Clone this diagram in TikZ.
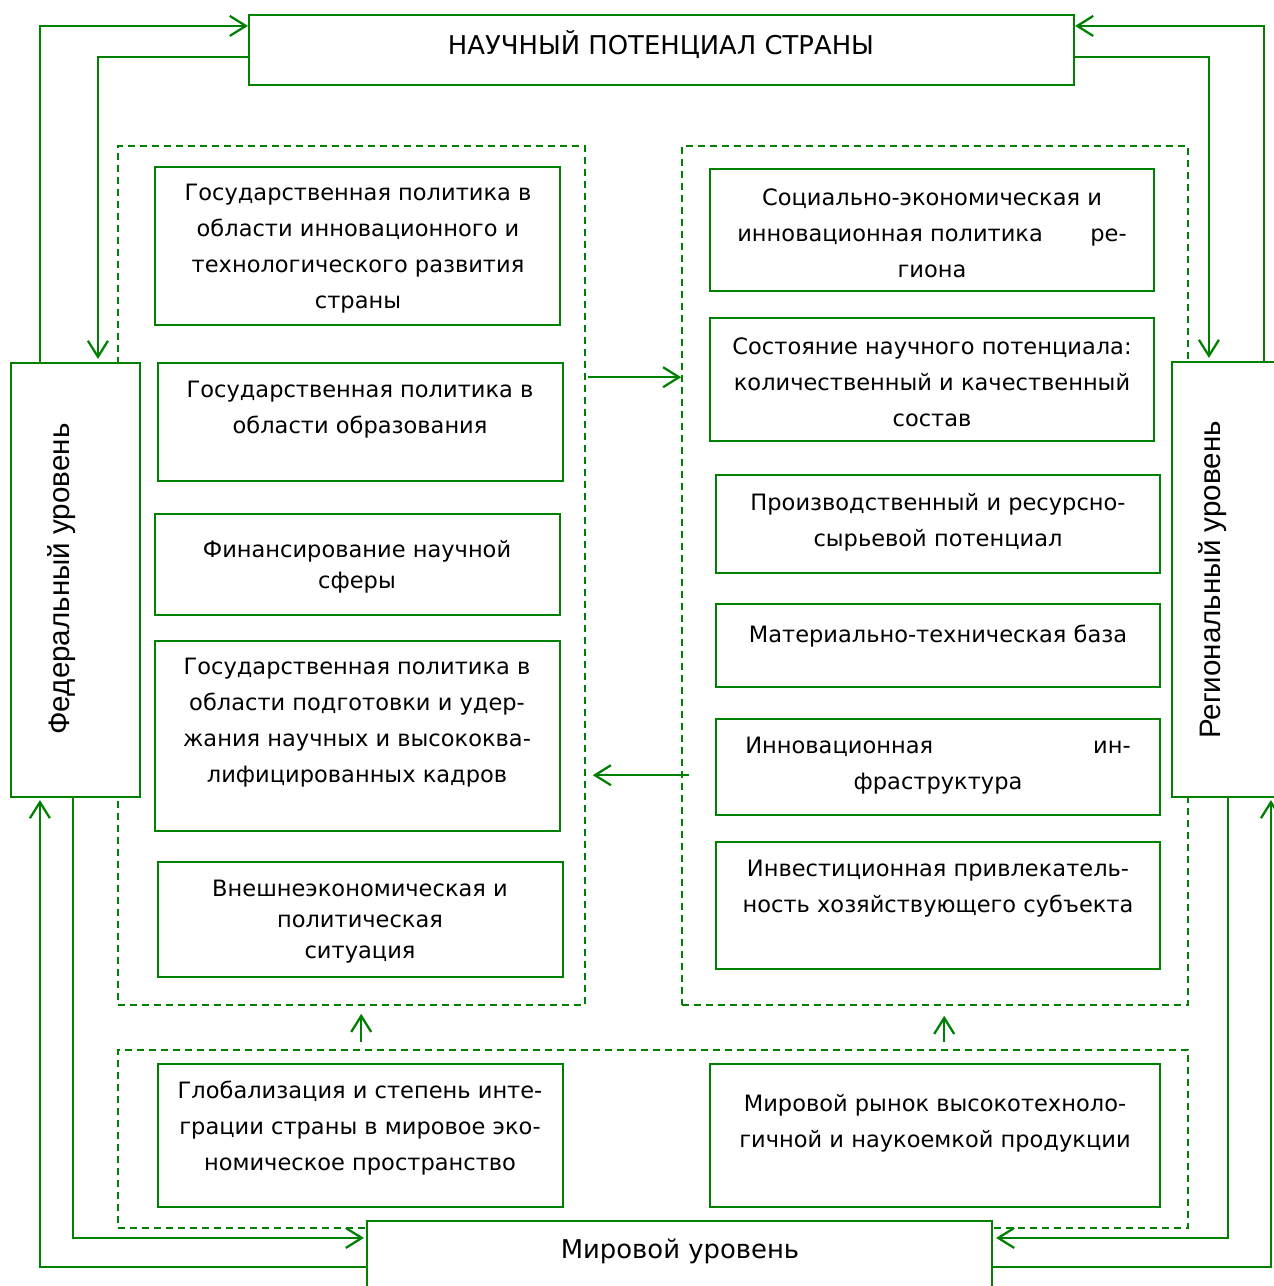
\documentclass[tikz,border=0pt]{standalone}
\usepackage{fontspec}
\setmainfont{DejaVu Sans}
\newfontfamily\lib{Liberation Sans}
\usetikzlibrary{arrows.meta,fit,calc}
\definecolor{gr}{RGB}{0,128,0}
\begin{document}
\begin{tikzpicture}[x=0.75pt,y=-0.75pt,
  box/.style={draw=gr,line width=1.6pt,inner sep=0pt,fill=none},
  grp/.style={draw=gr,line width=1.2pt,dash pattern=on 5.5pt off 3.5pt,inner sep=0pt},
  arr/.style={draw=gr,line width=1.8pt,-{Straight Barb[length=12pt,width=15pt,line width=1.7pt]}},
  txt/.style={align=center,inner sep=0pt,font=\fontsize{16.9}{27}\selectfont},
  txs/.style={align=center,inner sep=0pt,font=\fontsize{16.9}{23.3}\selectfont},
  big/.style={inner sep=0pt,font=\fontsize{19.4}{22}\selectfont},
  rot/.style={inner sep=0pt,rotate=90,font=\lib\fontsize{22.2}{24}\selectfont}]
\useasboundingbox (0,0) rectangle (1274,1286);
\begin{scope}
\clip (0,0) rectangle (1274,1286);
% groups
\node[grp,fit={(118,146)(585,1005)}] (gL) {};
\node[grp,fit={(682,146)(1188,1005)}] (gR) {};
\node[grp,fit={(118,1050)(1188,1228)}] (gB) {};
% level boxes
\node[box,fit={(249,15)(1074,85)},fill=white] (top) {};
\node[box,fit={(11,363)(140,797)},fill=white] (fed) {};
\node[box,fit={(1172,362)(1300,797)},fill=white] (reg) {};
\node[box,fit={(367,1221)(992,1300)},fill=white] (wor) {};
\node[big] (ttop) at (661,45) {НАУЧНЫЙ ПОТЕНЦИАЛ СТРАНЫ};
\node[big] (twor) at (680,1251) {Мировой уровень};
\node[rot] (tfed) at (62,579) {Федеральный уровень};
\node[rot] (treg) at (1213,580) {Региональный уровень};
% left boxes
\node[box,fit={(155,167)(560,325)}] (l1) {};
\node[box,fit={(158,363)(563,481)}] (l2) {};
\node[box,fit={(155,514)(560,615)}] (l3) {};
\node[box,fit={(155,641)(560,831)}] (l4) {};
\node[box,fit={(158,862)(563,977)}] (l5) {};
\node[txt] (tl1) at (358,249) {Государственная политика в\\области инновационного и\\технологического развития\\страны};
\node[txt] (tl2) at (360,410) {Государственная политика в\\области образования};
\node[txs] (tl3) at (357,567) {Финансирование научной\\сферы};
\node[txt] (tl4) at (357,723) {Государственная политика в\\области подготовки и удер-\\жания научных и высококва-\\лифицированных кадров};
\node[txs] (tl5) at (360,922) {Внешнеэкономическая и\\политическая\\ситуация};
% right boxes
\node[box,fit={(710,169)(1154,291)}] (r1) {};
\node[box,fit={(710,318)(1154,441)}] (r2) {};
\node[box,fit={(716,475)(1160,573)}] (r3) {};
\node[box,fit={(716,604)(1160,687)}] (r4) {};
\node[box,fit={(716,719)(1160,815)}] (r5) {};
\node[box,fit={(716,842)(1160,969)}] (r6) {};
\node[txt] (tr1) at (932,233) {Социально-экономическая и\\\makebox[292pt][s]{инновационная политика\hfill ре-}\\гиона};
\node[txt] (tr2) at (932,382) {Состояние научного потенциала:\\количественный и качественный\\состав};
\node[txt] (tr3) at (938,522) {Производственный и ресурсно-\\сырьевой потенциал};
\node[txt] (tr4) at (938,636) {Материально-техническая база};
\node[txt] (tr5) at (938,766) {\makebox[289pt][s]{Инновационная\hfill ин-}\\фраструктура};
\node[txt] (tr6) at (938,889) {Инвестиционная привлекатель-\\ность хозяйствующего субъекта};
% bottom boxes
\node[box,fit={(158,1064)(563,1207)}] (b1) {};
\node[box,fit={(710,1064)(1160,1207)}] (b2) {};
\node[txt] (tb1) at (360,1128) {Глобализация и степень инте-\\грации страны в мировое эко-\\номическое пространство};
\node[txt] (tb2) at (935,1123) {Мировой рынок высокотехноло-\\гичной и наукоемкой продукции};
% connectors
\draw[arr] ($(fed.north west)+(30,0)$) |- ($(top.north west)+(0,12)$);
\draw[arr] ($(top.north west)+(0,43)$) -| ($(fed.north west)+(88,-3)$);
\draw[arr] ($(reg.north west)+(93,0)$) |- ($(top.north east)+(0,12)$);
\draw[arr] ($(top.north east)+(0,43)$) -| ($(reg.north west)+(38,-3)$);
\draw[arr] ($(fed.south west)+(63,0)$) |- ($(wor.north west)+(-2,18)$);
\draw[arr] ($(wor.north west)+(0,47)$) -| ($(fed.south west)+(30,2)$);
\draw[arr] ($(reg.south west)+(57,0)$) |- ($(wor.north east)+(3,18)$);
\draw[arr] ($(wor.north east)+(0,47)$) -| ($(reg.south west)+(100,2)$);
\draw[arr] ($(gL.north east)+(2,232)$) -- ($(gR.north west)+(0,232)$);
\draw[arr] ($(gR.north west)+(8,630)$) -- ($(gL.north east)+(7,630)$);
\draw[arr] ($(gB.north west)+(244,-7)$) -- ($(gL.south west)+(244,8)$);
\draw[arr] ($(gB.north west)+(827,-7)$) -- ($(gR.south west)+(263,10)$);
\end{scope}
\end{tikzpicture}
\end{document}
